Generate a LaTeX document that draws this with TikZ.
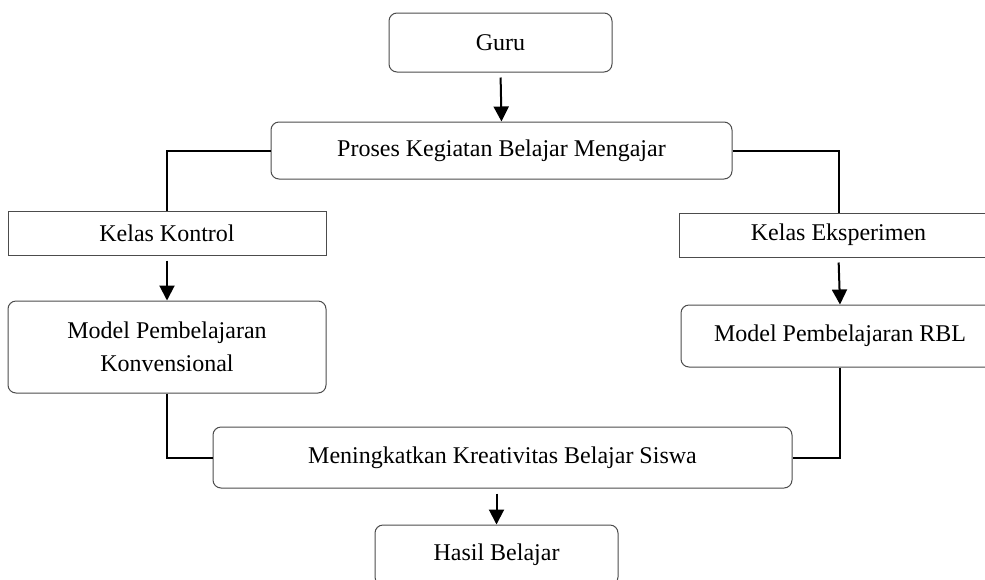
\documentclass[tikz,border=0pt]{standalone}
\usepackage{fontspec}
\setmainfont{Liberation Serif}
\usepackage{tikz}
\usetikzlibrary{arrows.meta}

\tikzset{
  kotak/.style={draw=black!70, line width=0.5pt, inner sep=2pt,
    font=\fontsize{12}{16.5}\selectfont, align=center},
  kotakbulat/.style={kotak, rounded corners=4pt},
  garis/.style={black, line width=1pt},
  panah/.style={garis, -{Triangle[length=7.5pt,width=7.5pt]}, shorten <=2.5pt}
}

\begin{document}
\begin{tikzpicture}[x=0.5pt,y=-0.5pt]
\clip (0,0) rectangle (985,579);

% kotak-kotak
\node [kotakbulat, minimum width=111.5pt, minimum height=29.5pt] (guru) at (500.5,42.5) {Guru};
\node [kotakbulat, minimum width=230.5pt, minimum height=28.5pt] (pkbm) at (501.5,150.5) {Proses Kegiatan Belajar Mengajar};
\node [kotak, minimum width=159pt, minimum height=22pt] (kontrol) at (167,233) {Kelas Kontrol};
\node [kotak, minimum width=159.5pt, minimum height=22pt] (eksperimen) at (838.5,235) {Kelas Eksperimen};
\node [kotakbulat, minimum width=159pt, minimum height=46pt] (konv) at (167,347) {Model Pembelajaran\\Konvensional};
\node [kotakbulat, minimum width=159pt, minimum height=31pt] (rbl) at (840,336) {Model Pembelajaran RBL};
\node [kotakbulat, minimum width=289.5pt, minimum height=30.5pt] (kreatif) at (502.5,457.5) {Meningkatkan Kreativitas Belajar Siswa};
\node [kotakbulat, minimum width=121.5pt, minimum height=30pt] (hasil) at (496.5,555) {Hasil Belajar};

% penghubung
\draw [panah] (guru.south) -- (pkbm.north);
\draw [garis] (pkbm.west) -| (kontrol.north);
\draw [garis] (pkbm.east) -| (eksperimen.north);
\draw [panah] (kontrol.south) -- (konv.north);
\draw [panah] (eksperimen.south) -- (rbl.north);
\draw [garis] (konv.south) |- (kreatif.west);
\draw [garis] (rbl.south) |- (kreatif.east);
\draw [panah] (hasil.north |- kreatif.south) -- (hasil.north);

\end{tikzpicture}
\end{document}
